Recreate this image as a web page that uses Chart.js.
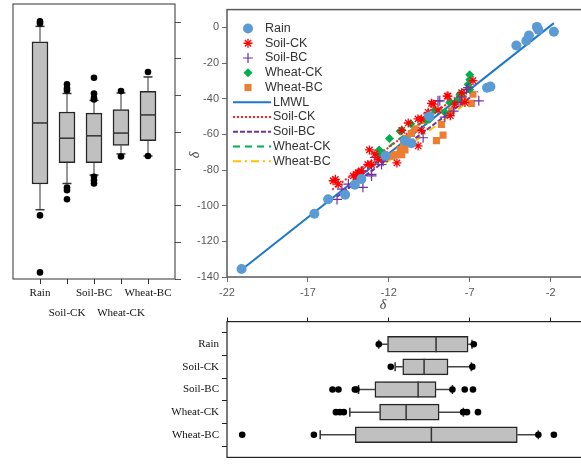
<!DOCTYPE html>
<html>
<head>
<meta charset="utf-8">
<script src="https://cdn.jsdelivr.net/npm/chart.js@4.4.0/dist/chart.umd.min.js"></script>
<style>
body{margin:0;background:#fff;width:581px;height:467px;position:relative;overflow:hidden}
canvas{position:absolute}
</style>
</head>
<body>
<canvas id="left" width="184" height="325" style="left:0;top:0"></canvas>
<canvas id="scatter" width="400" height="312" style="left:184px;top:0"></canvas>
<canvas id="bottom" width="424" height="155" style="left:160px;top:312px"></canvas>
<script>
// categories and ticks
const boxCats = ['Rain', 'Soil-CK', 'Soil-BC', 'Wheat-CK', 'Wheat-BC'];
const xTicks = [-22, -17, -12, -7, -2];
const yTicks = [-140, -120, -100, -80, -60, -40, -20, 0];

// scatter series [x, y]
const rainPts = [[-21.1,-135.5],[-16.6,-104.5],[-15.75,-96.4],[-14.7,-93.8],[-14.1,-88.2],[-13.7,-85],[-12.2,-72],[-11.0,-63.5],[-10.6,-65],[-9.5,-50],[-5.93,-33.8],[-5.72,-33.2],[-4.12,-10.1],[-3.5,-7.5],[-3.34,-4.5],[-2.85,0.3],[-2.76,-1.3],[-1.8,-2.4]];
const soilCKPts = [[-15.44,-86],[-15.13,-87.9],[-15.3,-85.2],[-14.2,-83.3],[-14.0,-82.4],[-13.9,-81.5],[-13.8,-81.5],[-13.7,-80.5],[-14.0,-83.8],[-13.3,-76.9],[-13.07,-76.9],[-12.66,-74.2],[-11.5,-76],[-13.2,-68.7],[-12.86,-71],[-11.2,-57.7],[-10.8,-53.6],[-10.19,-66.5],[-10.2,-51.3],[-9.98,-57.7],[-9.98,-51.3],[-9.57,-47.6],[-9.36,-42.6],[-9.26,-43],[-8.96,-46.3],[-8.4,-38.5],[-8.34,-38.5],[-8.2,-49.5],[-7.93,-43],[-7.5,-36.6],[-7.3,-42.1],[-6.8,-29.8]];
const soilBCPts = [[-15.2,-96.5],[-14.9,-90.7],[-14.5,-87.9],[-13.6,-89.7],[-13.6,-80.6],[-13.07,-83.3],[-13.07,-82.4],[-12.45,-76.9],[-12.35,-75],[-12.86,-72.9],[-9.88,-61.9],[-9.57,-48.5],[-8.96,-41.2],[-8.85,-41.2],[-8.54,-50.3],[-8.0,-47],[-7.6,-42],[-7.5,-39],[-7.2,-34.8],[-7.1,-33.8],[-6.44,-41.2]];
const wheatCKPts = [[-12.6,-68.7],[-12.56,-71.4],[-11.96,-62.3],[-11.3,-58.2],[-11.2,-57.7],[-10.64,-54],[-9.67,-51.8],[-9.47,-51.3],[-9.16,-46.5],[-8.54,-47.6],[-8.23,-42.1],[-7.8,-41.2],[-7.6,-37.5],[-7.0,-34.8],[-7.1,-32],[-7.0,-29.3],[-7.0,-26.5]];
const wheatBCPts = [[-11.8,-72.3],[-11.6,-71.4],[-11.2,-71.4],[-11.5,-71.4],[-11.3,-68.7],[-11.0,-68.7],[-11.1,-65],[-11.0,-65],[-10.9,-62.3],[-10.6,-59.5],[-10.4,-56.8],[-9.78,-52.2],[-9.06,-63.5],[-8.65,-60.4],[-8.75,-54.4],[-8.13,-46.7],[-7.6,-38.5],[-7.41,-39.7],[-6.9,-42.6],[-6.8,-37.5]];

// fitted lines, end points
const lmwlLine = [[-21.1,-135.9],[-1.8,2.4]];
const soilCKLine = [[-15.5,-91],[-6.8,-32]];
const soilBCLine = [[-15.2,-95],[-6.5,-36]];
const wheatCKLine = [[-12.6,-71],[-7,-33]];
const wheatBCLine = [[-12.2,-76],[-7,-41]];

// left box plot (y values)
const dQ1 = [-88.2, -76.5, -76.5, -67.2, -64.5];
const dMed = [-54.9, -63.2, -61.9, -60.4, -50.5];
const dQ3 = [-10.6, -48.9, -49.5, -47.6, -37.7];
const dLo = [-102.2, -87.9, -83.3, -71.8, -72.9];
const dHi = [-2.2, -38.8, -42.6, -38.5, -29.8];
const dOut = [[0.5,-0.6,-105.3,-136.4],[-33.8,-36,-37.2,-90.1,-91.6,-96.5],[-30.2,-38.8,-41.2,-42.1,-84.2,-86.1,-87.9],[-37.5,-73.2],[-27.1,-72.9]];

// bottom box plot (x values)
const oQ1 = [-12.08, -11.14, -12.86, -12.57, -14.08];
const oMed = [-9.08, -9.82, -10.19, -10.93, -9.37];
const oQ3 = [-7.10, -8.34, -9.08, -8.89, -4.06];
const oLo = [-12.62, -11.61, -13.87, -14.41, -16.24];
const oHi = [-6.86, -6.90, -8.07, -7.39, -2.76];
const oOut = [[-12.62,-6.75],[-11.88,-6.84],[-15.48,-15.11,-14.10,-14.0,-8.07,-7.31,-6.80],[-15.27,-15.02,-14.78,-7.41,-7.17,-6.49],[-21.06,-16.63,-2.76,-1.8]];

const toXY = arr => arr.map(p => ({x: p[0], y: p[1]}));
const setTicks = list => (s => { s.ticks = list.map(v => ({value: v})); });

// draws a box round the plot area
const framePlugin = {
  id: 'frame',
  afterDraw(chart, args, opts) {
    const a = chart.chartArea, ctx = chart.ctx;
    ctx.save();
    ctx.strokeStyle = opts.color || '#333';
    ctx.lineWidth = opts.width || 1;
    ctx.strokeRect(a.left, a.top, a.right - a.left, a.bottom - a.top);
    ctx.restore();
  }
};

function boxDatasets(horizontal, q1, med, q3, lo, hi, out) {
  const pt = (c, v) => horizontal ? {x: v, y: c} : {x: c, y: v};
  const gap = c => horizontal ? {x: null, y: c} : {x: c, y: null};
  const whisk = [], caps = [], meds = [], outs = [];
  boxCats.forEach((c, i) => {
    const k = i + 1;
    whisk.push(pt(k, lo[i]), pt(k, q1[i]), gap(k), pt(k, q3[i]), pt(k, hi[i]), gap(k));
    caps.push(pt(k, lo[i]), pt(k, hi[i]));
    meds.push(pt(k, med[i]));
    out[i].forEach(v => outs.push(pt(k, v)));
  });
  const rot = horizontal ? 90 : 0;
  return [
    {type: 'line', data: whisk, borderColor: horizontal ? '#444' : '#777', borderWidth: 1.5, pointRadius: 0, spanGaps: false, order: 4},
    {type: 'bar', indexAxis: horizontal ? 'y' : 'x',
     data: boxCats.map((c, i) => horizontal ? {y: i + 1, x: [q1[i], q3[i]]} : {x: i + 1, y: [q1[i], q3[i]]}),
     barThickness: 16, backgroundColor: '#c0c0c0', borderColor: '#262626', borderWidth: 1.5, borderSkipped: false, order: 3},
    {type: 'scatter', data: caps, pointStyle: 'line', rotation: rot, pointRadius: 4.5, borderColor: '#333', borderWidth: 1.5, order: 2},
    {type: 'scatter', data: meds, pointStyle: 'line', rotation: rot, pointRadius: 8, borderColor: '#333', borderWidth: 1.5, order: 1},
    {type: 'scatter', data: outs, pointStyle: 'circle', pointRadius: 3.3, backgroundColor: '#000', borderWidth: 0, order: 0}
  ];
}

const serif = {family: 'Liberation Serif', size: 11};

// left box plot
new Chart(document.getElementById('left'), {
  type: 'scatter',
  data: {datasets: boxDatasets(false, dQ1, dMed, dQ3, dLo, dHi, dOut)},
  plugins: [framePlugin],
  options: {
    responsive: false, animation: false, events: [],
    layout: {autoPadding: false, padding: {left: 13, top: 4, right: 0, bottom: 0}},
    plugins: {legend: {display: false}, tooltip: {enabled: false}, frame: {color: '#333', width: 1}},
    scales: {
      x: {type: 'linear', min: 0, max: 6, offset: false,
          afterBuildTicks: setTicks([1, 2, 3, 4, 5]),
          afterFit: s => { s.height = 46; },
          border: {display: false},
          grid: {drawOnChartArea: false, tickLength: 5, color: '#333', offset: false},
          ticks: {autoSkip: false, maxRotation: 0, minRotation: 0, padding: -1, color: '#111',
                  font: Object.assign({lineHeight: 1.85}, serif),
                  callback: v => (v % 2 === 1) ? [boxCats[v - 1]] : ['', boxCats[v - 1]]}},
      y: {type: 'linear', position: 'right', min: -140, max: 10,
          afterBuildTicks: setTicks(yTicks),
          afterFit: s => { s.width = 9; },
          border: {display: false},
          grid: {drawOnChartArea: false, tickLength: 6, color: '#555'},
          ticks: {display: false}}
    }
  }
});

// scatter + legend
const legendPlugin = {
  id: 'sideLegend',
  afterDraw(chart) {
    const ctx = chart.ctx;
    const dsets = chart.data.datasets;
    ctx.save();
    ctx.font = '12.5px "Liberation Sans"';
    ctx.textBaseline = 'middle';
    ctx.fillStyle = '#333';
    dsets.forEach((ds, i) => {
      const y = 28.5 + i * 14.75;
      if (ds.type === 'line') {
        ctx.save();
        ctx.strokeStyle = ds.borderColor;
        ctx.lineWidth = 2;
        ctx.setLineDash(ds.borderDash || []);
        ctx.beginPath();
        ctx.moveTo(49, y);
        ctx.lineTo(87, y);
        ctx.stroke();
        ctx.restore();
        ctx.fillStyle = '#333';
        ctx.fillText(ds.label, 89, y);
      } else {
        ctx.save();
        ctx.fillStyle = ds.backgroundColor;
        ctx.strokeStyle = ds.borderColor;
        ctx.lineWidth = ds.borderWidth;
        Chart.helpers.drawPoint(ctx, {pointStyle: ds.pointStyle, radius: ds.pointRadius, rotation: 0, borderWidth: ds.borderWidth}, 64, y);
        ctx.restore();
        ctx.fillStyle = '#333';
        ctx.fillText(ds.label, 81, y);
      }
    });
    // axis titles
    ctx.font = 'italic 14px "Liberation Serif"';
    ctx.fillStyle = '#404040';
    ctx.textAlign = 'center';
    ctx.fillText('δ', 199, 305);
    ctx.translate(11, 155);
    ctx.rotate(-Math.PI / 2);
    ctx.fillText('δ', 0, 0);
    ctx.restore();
  }
};

const pointSet = (label, pts, style, color, r, bw) => ({
  label: label, data: toXY(pts), pointStyle: style, pointRadius: r,
  backgroundColor: color, borderColor: color, borderWidth: bw
});
const lineSet = (label, pts, color, dash) => ({
  type: 'line', label: label, data: toXY(pts), borderColor: color, borderWidth: 2,
  borderDash: dash, pointRadius: 0, fill: false
});

new Chart(document.getElementById('scatter'), {
  type: 'scatter',
  data: {datasets: [
    pointSet('Rain', rainPts, 'circle', '#5B9BD5', 5, 0),
    pointSet('Soil-CK', soilCKPts, 'star', '#FF0000', 4.5, 1.3),
    pointSet('Soil-BC', soilBCPts, 'cross', '#7030A0', 5, 1.2),
    pointSet('Wheat-CK', wheatCKPts, 'rectRot', '#00B050', 4.5, 0),
    pointSet('Wheat-BC', wheatBCPts, 'rect', '#ED7D31', 5, 0),
    lineSet('LMWL', lmwlLine, '#1F77C8', []),
    lineSet('Soil-CK', soilCKLine, '#FF2020', [2, 2]),
    lineSet('Soil-BC', soilBCLine, '#7030A0', [5, 2]),
    lineSet('Wheat-CK', wheatCKLine, '#00B050', [7, 5]),
    lineSet('Wheat-BC', wheatBCLine, '#FFC000', [8, 4, 2, 4])
  ]},
  plugins: [framePlugin, legendPlugin],
  options: {
    responsive: false, animation: false, events: [],
    layout: {autoPadding: false, padding: {left: 0, top: 4, right: 1, bottom: 0}},
    plugins: {legend: {display: false}, tooltip: {enabled: false}, frame: {color: '#5a5a5a', width: 1.5}},
    scales: {
      x: {type: 'linear', min: -22, max: 0,
          afterBuildTicks: setTicks(xTicks),
          afterFit: s => { s.height = 35; },
          border: {display: false},
          grid: {drawOnChartArea: false, tickLength: 5, color: '#6a6a6a'},
          ticks: {padding: 4, color: '#595959', font: {family: 'Liberation Sans', size: 11}}},
      y: {type: 'linear', min: -140, max: 10,
          afterBuildTicks: setTicks(yTicks),
          afterFit: s => { s.width = 43; },
          border: {display: false},
          grid: {drawOnChartArea: false, tickLength: 5, color: '#6a6a6a'},
          ticks: {padding: 3, color: '#595959', font: {family: 'Liberation Sans', size: 11}}}
    }
  }
});

// bottom box plot
new Chart(document.getElementById('bottom'), {
  type: 'scatter',
  data: {datasets: boxDatasets(true, oQ1, oMed, oQ3, oLo, oHi, oOut)},
  plugins: [framePlugin],
  options: {
    responsive: false, animation: false, events: [],
    layout: {autoPadding: false, padding: {left: 0, top: 0, right: 1, bottom: 1}},
    plugins: {legend: {display: false}, tooltip: {enabled: false}, frame: {color: '#222', width: 1.2}},
    scales: {
      x: {type: 'linear', position: 'top', min: -22, max: 0, offset: false,
          afterBuildTicks: setTicks(xTicks),
          afterFit: s => { s.height = 7; },
          border: {display: false},
          grid: {drawOnChartArea: false, tickLength: 4, color: '#222'},
          ticks: {display: false}},
      y: {type: 'linear', min: 0, max: 6, reverse: true, offset: false,
          afterBuildTicks: setTicks([1, 2, 3, 4, 5]),
          afterFit: s => { s.width = 67; },
          border: {display: false},
          grid: {drawOnChartArea: false, tickLength: 5, color: '#222'},
          ticks: {padding: 3, color: '#111', font: serif, callback: v => boxCats[v - 1]}}
    }
  }
});
</script>
</body>
</html>
